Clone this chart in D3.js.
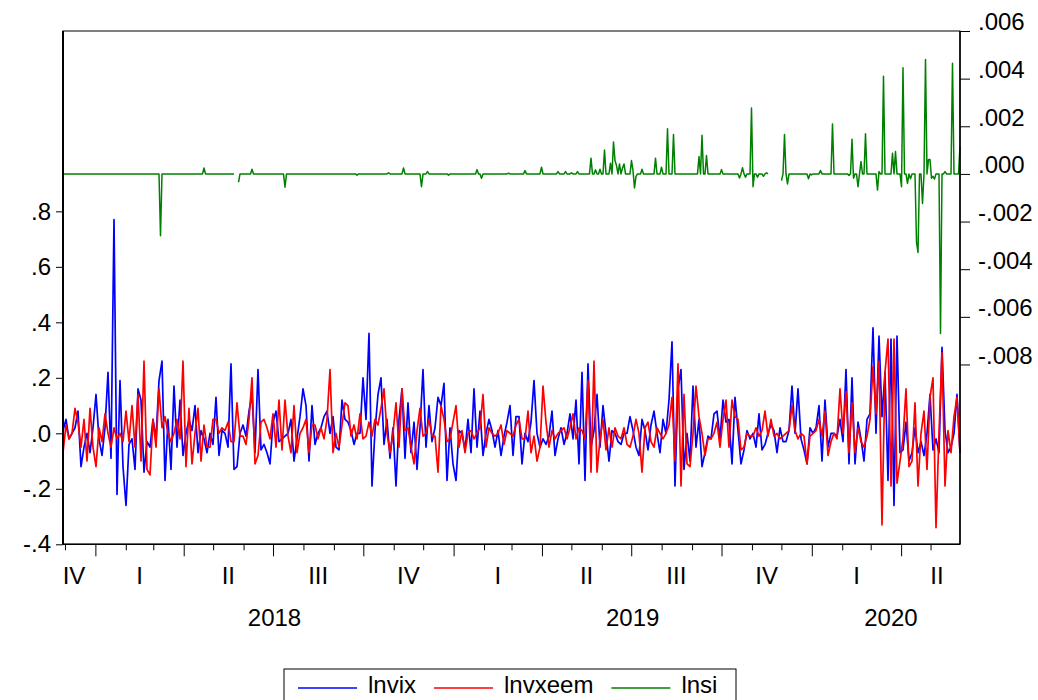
<!DOCTYPE html>
<html>
<head>
<meta charset="utf-8">
<script src="https://cdn.jsdelivr.net/npm/d3@7"></script>
<style>
  body { margin: 0; background: #fff; }
  text { font-family: "Liberation Sans", Arial, sans-serif; font-size: 24px; fill: #000; }
</style>
</head>
<body>
<script>
// sample span of the plotted observations
var startDate = new Date(2017, 10, 29);
var endDate   = new Date(2020, 4, 31);

var quarterNames = ["I", "II", "III", "IV"];
var leftTicks   = [-0.4, -0.2, 0, 0.2, 0.4, 0.6, 0.8];
var leftLabels  = ["-.4", "-.2", ".0", ".2", ".4", ".6", ".8"];
var rightTicks  = [-0.008, -0.006, -0.004, -0.002, 0, 0.002, 0.004, 0.006];
var rightLabels = ["-.008", "-.006", "-.004", "-.002", ".000", ".002", ".004", ".006"];

var seriesNames  = ["lnvix", "lnvxeem", "lnsi"];
var seriesColors = ["#0000ff", "#ff0000", "#008000"];

// lnvix (left axis)
var lnvix = [
  0.01,0.05,-0.02,0.00,0.02,0.08,-0.12,-0.05,0.00,-0.07,0.02,0.14,-0.02,-0.08,0.02,0.22,-0.09,0.77,-0.22,0.19,
  -0.12,-0.26,-0.04,-0.02,-0.13,0.16,0.12,-0.14,-0.03,-0.05,0.05,-0.02,0.19,0.26,-0.17,0.05,-0.13,0.17,-0.05,0.12,
  -0.08,0.00,0.05,0.01,0.10,-0.07,0.01,-0.02,-0.07,0.00,-0.04,
  0.13,-0.08,0.01,0.00,-0.05,0.25,-0.13,-0.12,0.00,0.03,-0.01,0.08,0.14,-0.07,0.23,-0.06,-0.04,-0.07,-0.11,0.04,
  0.08,-0.03,-0.02,-0.01,0.00,0.05,-0.10,-0.02,0.06,0.16,0.10,-0.10,0.10,-0.04,0.00,0.02,0.06,0.08,0.00,0.06,
  -0.05,-0.06,0.12,0.05,0.04,0.01,-0.04,0.00,0.00,0.20,
  0.05,0.36,-0.19,0.01,0.14,0.20,-0.04,0.05,-0.09,0.02,-0.19,0.05,0.16,-0.09,0.11,-0.07,0.04,-0.13,0.02,0.23,
  -0.05,0.10,-0.03,0.02,0.13,0.10,0.18,-0.17,0.02,-0.11,-0.17,0.01,0.00,-0.06,0.05,-0.07,0.16,-0.05,0.08,-0.08,
  0.00,0.05,0.01,-0.05,0.01,-0.08,-0.01,0.04,0.10,-0.08,
  0.06,0.06,-0.11,0.00,-0.03,0.04,0.19,0.00,-0.05,-0.02,-0.04,-0.01,0.08,-0.08,-0.02,0.02,-0.04,0.00,0.07,-0.02,
  0.12,-0.11,0.22,-0.17,0.25,-0.05,0.01,0.14,-0.05,0.10,0.00,-0.10,0.01,0.00,-0.03,-0.04,0.00,0.00,0.06,0.01,
  -0.05,-0.08,0.05,0.01,-0.06,0.03,0.08,0.00,-0.07,0.05,
  0.00,0.12,0.33,-0.19,0.16,0.23,-0.13,0.00,-0.10,0.17,-0.05,0.05,-0.12,-0.07,-0.01,-0.02,0.07,0.08,-0.02,0.12,
  0.04,0.05,-0.11,0.13,0.01,-0.11,-0.06,0.01,-0.02,0.00,-0.05,0.07,-0.06,-0.04,0.00,0.03,0.01,-0.07,0.02,-0.03,
  -0.03,0.01,0.17,0.00,0.16,-0.02,-0.06,-0.11,0.02,0.00,
  0.02,0.10,-0.10,0.12,-0.05,0.00,0.00,-0.01,0.05,-0.03,0.23,-0.11,0.20,-0.11,0.04,-0.02,-0.10,0.05,0.07,0.38,
  0.00,0.35,0.06,0.22,-0.17,0.34,-0.26,0.35,-0.07,-0.06,0.04,-0.10,-0.07,0.02,-0.07,-0.03,-0.08,0.00,0.14,-0.06,
  -0.02,-0.07,0.31,0.01,-0.07,-0.05,0.00,0.14,-0.07
];

// lnvxeem (left axis)
var lnvxeem = [
  -0.07,0.03,-0.02,0.00,0.09,0.04,-0.05,0.05,-0.10,0.09,-0.05,-0.12,0.02,-0.03,0.07,0.00,-0.05,0.02,-0.02,0.00,
  -0.03,0.08,-0.03,0.10,-0.05,0.14,-0.10,0.26,-0.13,-0.15,0.05,-0.05,0.16,0.02,0.06,0.00,-0.03,0.00,0.05,-0.02,
  0.26,-0.12,0.09,-0.11,0.00,0.09,-0.10,0.03,-0.05,-0.05,0.05,
  0.05,0.00,0.02,0.01,0.04,-0.03,-0.03,0.11,-0.01,-0.01,-0.04,0.05,0.20,-0.11,-0.08,0.04,0.05,0.02,-0.02,0.07,
  -0.05,0.12,-0.06,0.12,-0.01,-0.07,0.10,-0.07,0.00,0.02,0.05,-0.07,0.03,0.03,-0.02,0.02,-0.02,0.05,0.23,-0.07,
  0.00,-0.05,0.03,0.11,0.10,-0.01,0.03,-0.02,0.07,-0.02,
  -0.01,0.04,-0.01,0.05,0.03,0.09,0.16,0.00,-0.07,0.00,0.11,-0.05,0.16,0.01,0.02,-0.05,-0.11,0.01,0.09,-0.01,
  0.00,0.05,-0.01,-0.01,-0.14,0.10,0.05,-0.03,-0.02,0.04,0.10,-0.05,0.01,-0.07,0.00,0.01,-0.02,0.00,0.02,0.14,
  -0.05,0.02,0.00,-0.01,0.00,0.03,-0.04,0.01,0.00,-0.01,
  0.03,0.05,-0.02,-0.02,0.08,-0.07,-0.01,-0.10,-0.05,0.17,0.04,-0.05,0.01,-0.02,0.00,0.01,0.02,-0.02,0.02,0.07,
  -0.02,0.02,0.01,-0.02,0.19,-0.14,0.26,-0.14,-0.02,0.05,-0.06,0.02,-0.05,0.02,-0.01,-0.02,0.02,-0.04,-0.05,-0.01,
  0.05,0.00,-0.14,0.02,0.04,-0.03,-0.05,0.02,0.00,-0.02,
  0.00,0.03,0.13,-0.10,0.25,-0.19,0.14,-0.11,-0.12,0.00,0.17,0.06,0.00,-0.08,-0.02,-0.02,0.00,0.04,-0.05,0.05,
  0.12,-0.05,0.12,0.06,0.05,-0.06,-0.05,0.00,-0.01,-0.01,0.02,-0.01,0.01,0.08,-0.01,0.05,-0.01,0.00,-0.02,-0.01,
  0.00,0.01,0.10,0.01,-0.02,0.00,-0.01,-0.11,-0.01,0.00,
  0.01,0.05,-0.01,0.08,-0.08,-0.03,0.00,-0.02,0.16,0.00,0.15,-0.07,0.11,-0.07,0.02,-0.03,-0.05,-0.01,0.05,0.24,
  0.07,0.26,-0.33,0.22,0.34,-0.19,0.34,-0.18,-0.10,-0.02,0.16,-0.12,-0.10,0.11,-0.19,0.00,0.08,-0.13,0.13,0.20,
  -0.34,0.00,0.29,-0.19,0.01,-0.07,0.06,0.13,-0.07
];

// lnsi (right axis), null = missing observation
var lnsi = [
  0,0,0,0,0,0,0,0,0,0,0,0,0,0,0,0,0,0,0,0,
  0,0,0,0,0,0,0,0,0,0,0,0,0,0,0,0,0,0,0,0,
  0,0,0,0,0,0,0,0,0,0,0,0,0,0,0,0,0,0,0,0,
  0,0,0,0,0,-0.0026,0,0,0,0,0,0,0,0,0,0,0,0,0,0,
  0,0,0,0,0,0,0,0,0,0,0,0,0,0,0.00025,0,0,0,0,0,
  0,0,0,0,0,0,0,0,0,0,0,0,0,0,0,null,null,-0.00035,0,0,
  0,0,0,0,0,0,0.0002,0,0,0,0,0,0,0,0,0,0,0,0,0,
  0,0,0,0,0,0,0,0,-0.00056,0,0,0,0,0,0,0,0,0,0,0,
  0,0,0,0,0,0,0,0,0,0,0,0,0,0,0,0,0,0,0,0,
  0,0,0,0,0,0,0,0,0,0,0,0,0,0,0,0,-0.00005,0,0,0,
  0,0,0,0,0,0,0,0,0,0,0,0,0,0,0,0,0,0.00005,0,0,
  0,0,0,0,0,0,0,0.00025,0,0,0,0,0,0,0,0,0,0,0,-0.00054,
  0,0,0,0.0001,0,0,0,0,0,0,0,0,0,0,0,0,0,-0.00005,0,0,
  0,0,0,0,0,0,0,0,0,0,0,0,0,0,0,0,0.00018,0,0,-0.00018,
  0,0,0,0,0,0,0,0,0,0,0,0,0,0,0,0,0,0.00003,0,0,
  0,0,0,0,0,0,0,0,0.00014,0,0,0,0,0,0,0,0,0,0,0.00028,
  0,0,0,0,0,0,0,0,0,0,0.0001,0,0,0,0,0.0001,0,0,0,0.00005,
  0,0,0,0.0001,0,0,0,0,0,0,0,0,0.00066,0,0,0.00017,0,0,0.0002,0,
  0,0.001,0,0,0,0.00045,0,0.00134,0.00056,0.00035,0,0.00042,0,0.00025,0.00042,0,0,0,0,0.00056,
  0.00014,-0.00059,-0.0001,0,0,0,0.0002,0,0,0,0,0,0,0,0,0.00066,0,0,0,0.00028,
  0,0,0,0.0019,0,0,0,0.00165,0,0,0,0,0,0,0,0,0,0,0,0,
  0,0,0,0,0.00073,0,0.00162,0,0,0.00077,0,0,0,0,0,0,0,0,0,0.00018,
  0,0,0,0,0,0,0,0,0,0,0,-0.00017,0,0.00026,0,-0.00014,0,0,0,0.00277,
  -0.00054,0,0,-0.00014,0,0,0,-0.0001,0,0.00005,0,null,null,null,null,null,null,null,null,-0.00028,
  0,0.00165,0,-0.00042,0,0,0,0,0,0,0,0,0,0,0,0,0,-0.0002,0,-0.00004,
  0,0,0,0,0,0.00014,0,0,0,0,0,0,0,0.0021,0,0,0,0,0,0,
  0,0,0,0,-0.00006,0,0.00146,-0.00018,0,0,-0.00054,0,0.00052,0,0,0.00169,0,0,0,0,
  0,0,0,-0.00068,0.0001,0,0,0.0041,0,0,0,0,0,0.00087,0,0.00094,0,0,0,-0.00054,
  0.00446,0,0,-0.0004,0,-0.0002,0,0,0,-0.00286,-0.0033,0,0,-0.00124,0,0.0048,0,0.0006,0.0006,-0.00018,
  -0.0001,-0.00022,0,0,0,-0.0067,0,0,0.0001,0,0,0,0,0.00465,0,0,0,0,0.00115
];

function chart()
{
    var W = 1038, H = 700;
    var left = 63, right = 960, top = 31, bottom = 544.3;

    var svg = d3.select("body").append("svg")
        .attr("width", W)
        .attr("height", H);

    var x  = d3.scaleTime().domain([startDate, endDate]).range([left, right]);
    var yL = d3.scaleLinear().domain([-0.4, 1.45]).range([bottom, top]);
    var yR = d3.scaleLinear().domain([-0.01555, 0.006]).range([bottom, top]);

    // observation i of n spread evenly over the sample
    function obsDate(i, n) {
        return new Date(+startDate + i * (endDate - startDate) / (n - 1));
    }

    // left axis
    var gL = svg.append("g")
        .attr("transform", "translate(" + left + ",0)")
        .call(d3.axisLeft(yL).tickValues(leftTicks)
            .tickFormat(function (d, i) { return leftLabels[i]; })
            .tickSize(7).tickPadding(5));
    // right axis
    var gR = svg.append("g")
        .attr("transform", "translate(" + right + ",0)")
        .call(d3.axisRight(yR).tickValues(rightTicks)
            .tickFormat(function (d, i) { return rightLabels[i]; })
            .tickSize(10).tickPadding(8));
    gR.selectAll("text").attr("dy", "-0.05em");

    // bottom axis: month ticks, longer at quarter starts
    var months = d3.timeMonth.range(d3.timeMonth.ceil(startDate), endDate);
    var gB = svg.append("g")
        .attr("transform", "translate(0," + bottom + ")")
        .call(d3.axisBottom(x).tickValues(months).tickFormat("").tickSize(6));
    gB.selectAll(".tick line")
        .attr("y2", function (d) { return d.getMonth() % 3 === 0 ? 12 : 6; });

    [gL, gR, gB].forEach(function (g) {
        g.select(".domain").remove();
        g.selectAll("text").style("font-size", "24px").attr("fill", "#000");
        g.selectAll(".tick line").attr("stroke", "#000");
    });

    // quarter labels: centred on the quarter, kept inside the plot
    var quarters = d3.timeMonth.every(3).range(d3.timeMonth.every(3).floor(startDate), endDate);
    svg.append("g").selectAll("text")
        .data(quarters)
        .enter().append("text")
        .attr("x", function (q) {
            var c = (x(q) + x(d3.timeMonth.offset(q, 3))) / 2;
            return Math.max(left + 11, Math.min(right - 23, c));
        })
        .attr("y", 584)
        .attr("text-anchor", "middle")
        .text(function (q) { return quarterNames[Math.floor(q.getMonth() / 3)]; });

    // year labels
    var years = d3.timeYear.range(d3.timeYear.floor(startDate), endDate).filter(function (yr) {
        var e = d3.timeYear.offset(yr, 1);
        return x(e > endDate ? endDate : e) - x(yr < startDate ? startDate : yr) > 100;
    });
    svg.append("g").selectAll("text")
        .data(years)
        .enter().append("text")
        .attr("x", function (yr) {
            var s = yr < startDate ? startDate : yr;
            var e = d3.timeYear.offset(yr, 1);
            if (e > endDate) e = endDate;
            return (x(s) + x(e)) / 2 + (e === endDate ? 5 : 0);
        })
        .attr("y", 626)
        .attr("text-anchor", "middle")
        .text(function (yr) { return yr.getFullYear(); });

    // series
    var data = [lnvix, lnvxeem, lnsi];
    var scales = [yL, yL, yR];
    data.forEach(function (arr, k) {
        var line = d3.line()
            .defined(function (d) { return d !== null; })
            .x(function (d, i) { return x(obsDate(i, arr.length)); })
            .y(function (d) { return scales[k](d); });
        svg.append("path")
            .datum(arr)
            .attr("fill", "none")
            .attr("stroke", seriesColors[k])
            .attr("stroke-width", k === 2 ? 1.5 : 1.7)
            .attr("stroke-linejoin", "round")
            .attr("d", line);
    });

    // frame
    svg.append("rect")
        .attr("x", left).attr("y", top)
        .attr("width", right - left).attr("height", bottom - top)
        .attr("fill", "none").attr("stroke", "#000").attr("stroke-width", 1);
    svg.append("line").attr("x1", left).attr("x2", left).attr("y1", top).attr("y2", bottom)
        .attr("stroke", "#000").attr("stroke-width", 2);
    svg.append("line").attr("x1", left).attr("x2", right).attr("y1", bottom).attr("y2", bottom)
        .attr("stroke", "#000").attr("stroke-width", 1.5);
    svg.append("line").attr("x1", right).attr("x2", right).attr("y1", top).attr("y2", bottom)
        .attr("stroke", "#000").attr("stroke-width", 1.5);

    // legend
    var legend = svg.append("g");
    legend.append("rect")
        .attr("x", 284).attr("y", 669)
        .attr("width", 452).attr("height", 40)
        .attr("fill", "#fff").attr("stroke", "#000").attr("stroke-width", 1);
    var lx = 298;
    seriesNames.forEach(function (name, k) {
        legend.append("line")
            .attr("x1", lx).attr("x2", lx + 59)
            .attr("y1", 688).attr("y2", 688)
            .attr("stroke", seriesColors[k]).attr("stroke-width", 1.5);
        var t = legend.append("text")
            .attr("x", lx + 70).attr("y", 693)
            .text(name);
        lx += 70 + t.node().getComputedTextLength() + 18;
    });
}

chart();
</script>
</body>
</html>
